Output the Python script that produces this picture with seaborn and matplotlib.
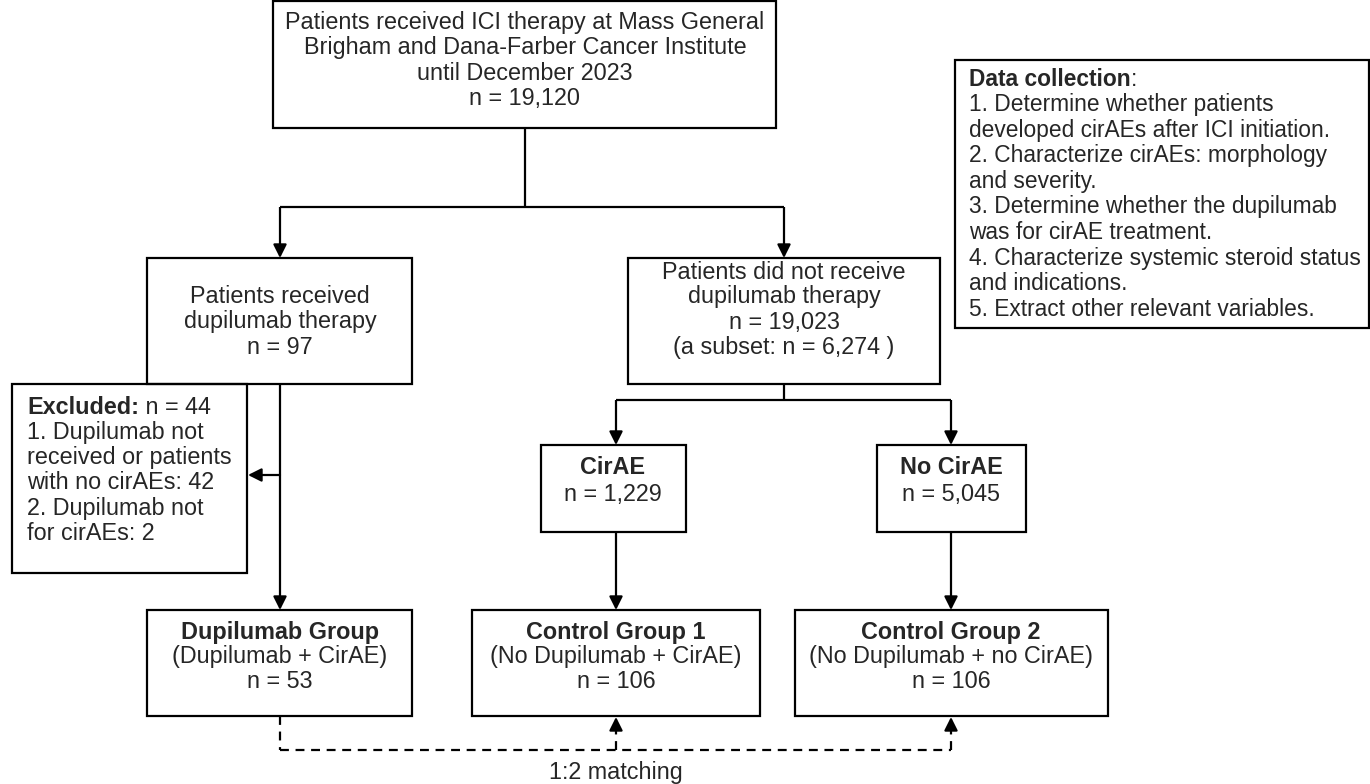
import matplotlib.pyplot as plt
import seaborn as sns
from matplotlib.patches import Rectangle

# counts shown in the flow chart
n_total = 19120
n_dupi = 97
n_no_dupi = 19023
n_subset = 6274
n_excluded = 44
n_excl_no_cirae = 42
n_excl_not_for = 2
n_cirae = 1229
n_no_cirae = 5045
n_group = [53, 106, 106]

group_titles = ["Dupilumab Group", "Control Group 1", "Control Group 2"]
group_subtitles = ["(Dupilumab + CirAE)", "(No Dupilumab + CirAE)", "(No Dupilumab + no CirAE)"]

data_steps = [
    "1. Determine whether patients",
    "developed cirAEs after ICI initiation.",
    "2. Characterize cirAEs: morphology",
    "and severity.",
    "3. Determine whether the dupilumab",
    "was for cirAE treatment.",
    "4. Characterize systemic steroid status",
    "and indications.",
    "5. Extract other relevant variables.",
]

sns.set_theme(style="white")
plt.rcParams["font.family"] = ["Liberation Sans", "DejaVu Sans"]

FS = 16.8
FS_DATA = 16.4
LW = 1.6

fig = plt.figure(figsize=(13.7, 7.84), dpi=100)
ax = fig.add_axes([0, 0, 1, 1])
ax.set_xlim(0, 1370)
ax.set_ylim(784, 0)
ax.axis("off")


def box(x0, y0, x1, y1):
    ax.add_patch(Rectangle((x0, y0), x1 - x0, y1 - y0, fill=False, ec="black", lw=LW))


def lines_centered(xc, ys, texts, bold_first=False):
    for i, (y, t) in enumerate(zip(ys, texts)):
        w = "bold" if (bold_first and i == 0) else "normal"
        ax.text(xc, y, t, ha="center", va="center", fontsize=FS, fontweight=w)


def seg(xs, ys, dashed=False):
    ax.plot(xs, ys, color="black", lw=LW, ls=(0, (4, 3)) if dashed else "-",
            solid_capstyle="butt")


def arrow(x0, y0, x1, y1):
    ax.annotate("", xy=(x1, y1), xytext=(x0, y0),
                arrowprops=dict(arrowstyle="-|>", color="black", lw=LW,
                                mutation_scale=20, shrinkA=0, shrinkB=0))


def head(x, y, up=False):
    # short arrow just for the head
    d = 14
    arrow(x, y + d if up else y - d, x, y)


def mixed(x, y, bold, rest, fs=FS):
    t = ax.text(x, y, bold, ha="left", va="center", fontsize=fs, fontweight="bold")
    fig.canvas.draw()
    bb = t.get_window_extent(fig.canvas.get_renderer())
    x_end = ax.transData.inverted().transform((bb.x1, bb.y0))[0]
    ax.text(x_end, y, rest, ha="left", va="center", fontsize=fs)


# top box
box(273, 1, 776, 128)
lines_centered(525, [22, 47, 73, 98], [
    "Patients received ICI therapy at Mass General",
    "Brigham and Dana-Farber Cancer Institute",
    "until December 2023",
    f"n = {n_total:,}",
])

seg([525, 525], [128, 207])
seg([280, 784], [207, 207])
seg([280, 280], [207, 245])
seg([784, 784], [207, 245])
head(280, 258)
head(784, 258)

# second level
box(147, 258, 412, 384)
lines_centered(280, [296, 321, 347], [
    "Patients received",
    "dupilumab therapy",
    f"n = {n_dupi}",
])

box(628, 258, 940, 384)
lines_centered(784, [272, 296, 322, 347], [
    "Patients did not receive",
    "dupilumab therapy",
    f"n = {n_no_dupi:,}",
    f"(a subset: n = {n_subset:,} )",
])

# data collection box
box(955, 60, 1369, 328)
mixed(969, 79, "Data collection", ":", fs=FS_DATA)
for i, t in enumerate(data_steps):
    ax.text(969, 104.5 + i * 25.6, t, ha="left", va="center", fontsize=FS_DATA)

# left branch down with exclusion
seg([280, 280], [384, 598])
head(280, 610)
arrow(280, 475, 248, 475)

box(12, 384, 247, 573)
mixed(27, 407, "Excluded:", " n = " + str(n_excluded))
for i, t in enumerate([
    "1. Dupilumab not",
    "received or patients",
    f"with no cirAEs: {n_excl_no_cirae}",
    "2. Dupilumab not",
    f"for cirAEs: {n_excl_not_for}",
]):
    ax.text(27, 432 + i * 25.4, t, ha="left", va="center", fontsize=FS)

# right branch split
seg([784, 784], [384, 400])
seg([616, 951], [400, 400])
seg([616, 616], [400, 433])
seg([951, 951], [400, 433])
head(616, 445)
head(951, 445)

box(541, 445, 686, 532)
lines_centered(613, [467, 494], ["CirAE", f"n = {n_cirae:,}"], bold_first=True)
box(877, 445, 1026, 532)
lines_centered(951, [467, 494], ["No CirAE", f"n = {n_no_cirae:,}"], bold_first=True)

seg([616, 616], [532, 598])
seg([951, 951], [532, 598])
head(616, 610)
head(951, 610)

# bottom group boxes
centers = [280, 616, 951]
edges = [(147, 412), (472, 760), (795, 1108)]
for xc, (x0, x1), ttl, sub, n in zip(centers, edges, group_titles, group_subtitles, n_group):
    box(x0, 610, x1, 716)
    lines_centered(xc, [632, 657, 682], [ttl, sub, f"n = {n}"], bold_first=True)

# dashed matching connector
seg([280, 280], [716, 750], dashed=True)
seg([280, 951], [750, 750], dashed=True)
seg([616, 616], [750, 730], dashed=True)
seg([951, 951], [750, 730], dashed=True)
head(616, 717, up=True)
head(951, 717, up=True)
ax.text(616, 772, "1:2 matching", ha="center", va="center", fontsize=FS)

fig.savefig("out.png", dpi=100)
